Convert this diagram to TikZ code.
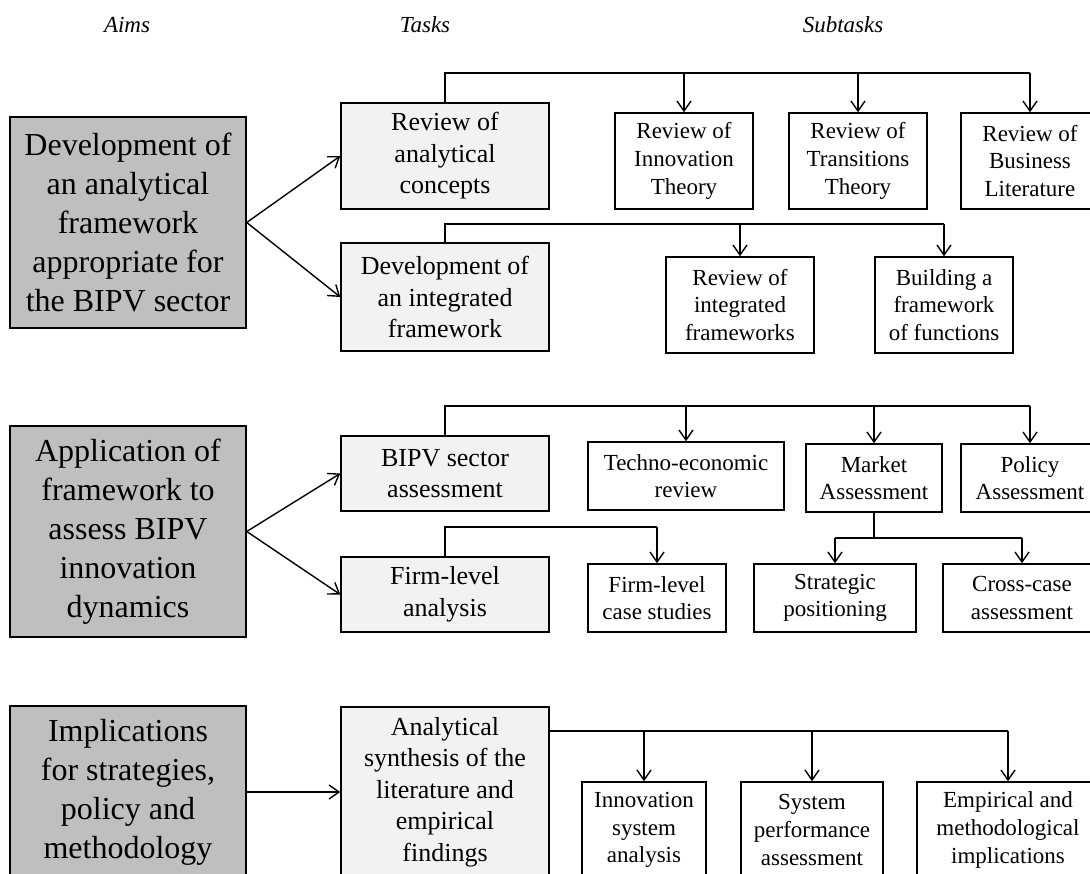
\documentclass[tikz,border=0pt]{standalone}
\usepackage{fontspec}
\setmainfont{Liberation Serif}
\usetikzlibrary{arrows.meta}
\definecolor{aimfill}{RGB}{191,191,191}
\definecolor{taskfill}{RGB}{242,242,242}
\begin{document}
\begin{tikzpicture}[x=1pt,y=-1pt,
  box/.style={draw=black, line width=1.5pt, inner sep=0pt, align=center, anchor=center},
  aimbox/.style={box, fill=aimfill, minimum width=236pt, font=\fontsize{32}{39}\selectfont},
  taskbox/.style={box, fill=taskfill, minimum width=208pt, font=\fontsize{26}{31.5}\selectfont},
  subbox/.style={box, fill=white, font=\fontsize{23}{27.7}\selectfont},
  head/.style={font=\fontsize{23}{27}\selectfont\itshape},
  link/.style={line width=1.4pt},
  arr/.style={link, -{Straight Barb[length=10pt,width=14pt]}},
]
\useasboundingbox (0,0) rectangle (1090,874);
\clip (0,0) rectangle (1090,874);

% column headings
\node[head] (hA) at (127,25) {Aims};
\node[head] (hT) at (425,25) {Tasks};
\node[head] (hS) at (843,25) {Subtasks};

% ---------- aim 1 ----------
\node[aimbox, minimum height=211pt] (a1) at (128,222.5)
  {Development of\\an analytical\\framework\\appropriate for\\the BIPV sector};
\node[taskbox, minimum height=106pt] (t11) at (445,156) {Review of\\analytical\\concepts};
\node[taskbox, minimum height=108pt] (t12) at (445,297) {Development of\\an integrated\\framework};
\draw[arr] (a1.east) -- (t11.west);
\draw[arr] (a1.east) -- (t12.west);

\node[subbox, minimum width=138pt, minimum height=96pt] (s111) at (684,161) {Review of\\Innovation\\Theory};
\node[subbox, minimum width=138pt, minimum height=96pt] (s112) at (858,161) {Review of\\Transitions\\Theory};
\node[subbox, minimum width=138pt, minimum height=96pt] (s113) at (1030,161) {Review of\\Business\\Literature};
\coordinate (r11) at (0,73);
\draw[link] (t11.north) -- (t11.north |- r11) -- (s113.north |- r11);
\draw[line width=1.8pt] (t11.north |- r11) -- (s112.north |- r11);
\draw[arr] (s111.north |- r11) -- (s111.north);
\draw[arr] (s112.north |- r11) -- (s112.north);
\draw[arr] (s113.north |- r11) -- (s113.north);

\node[subbox, minimum width=148pt, minimum height=96pt] (s121) at (740,305) {Review of\\integrated\\frameworks};
\node[subbox, minimum width=138pt, minimum height=96pt] (s122) at (944,305) {Building a\\framework\\of functions};
\coordinate (r12) at (0,224);
\draw[link] (t12.north) -- (t12.north |- r12) -- (s122.north |- r12);
\draw[arr] (s121.north |- r12) -- (s121.north);
\draw[arr] (s122.north |- r12) -- (s122.north);

% ---------- aim 2 ----------
\node[aimbox, minimum height=211pt] (a2) at (128,531.5)
  {Application of\\framework to\\assess BIPV\\innovation\\dynamics};
\node[taskbox, minimum height=75pt] (t21) at (445,473.5) {BIPV sector\\assessment};
\node[taskbox, minimum height=75pt] (t22) at (445,594.5) {Firm-level\\analysis};
\draw[arr] (a2.east) -- (t21.west);
\draw[arr] (a2.east) -- (t22.west);

\node[subbox, minimum width=196pt, minimum height=68pt] (s211) at (686,476) {Techno-economic\\review};
\node[subbox, minimum width=136pt, minimum height=68pt] (s212) at (874,478) {Market\\Assessment};
\node[subbox, minimum width=138pt, minimum height=68pt] (s213) at (1030,478) {Policy\\Assessment};
\coordinate (r21) at (0,406);
\draw[link] (t21.north) -- (t21.north |- r21) -- (s213.north |- r21);
\draw[arr] (s211.north |- r21) -- (s211.north);
\draw[arr] (s212.north |- r21) -- (s212.north);
\draw[arr] (s213.north |- r21) -- (s213.north);

\node[subbox, minimum width=138pt, minimum height=68pt] (s221) at (657,598) {Firm-level\\case studies};
\node[subbox, minimum width=162pt, minimum height=68pt] (s222) at (835,598) {Strategic\\positioning};
\node[subbox, minimum width=158pt, minimum height=68pt] (s223) at (1022,598) {Cross-case\\assessment};
\coordinate (r22) at (0,527);
\draw[link] (t22.north) -- (t22.north |- r22) -- (s221.north |- r22);
\draw[arr] (s221.north |- r22) -- (s221.north);
\coordinate (r23) at (0,538);
\draw[link] (s212.south) -- (s212.south |- r23);
\draw[link] (s222.north |- r23) -- (s223.north |- r23);
\draw[arr] (s222.north |- r23) -- (s222.north);
\draw[arr] (s223.north |- r23) -- (s223.north);

% ---------- aim 3 ----------
\node[aimbox, minimum height=172pt] (a3) at (128,792)
  {Implications\\for strategies,\\policy and\\methodology};
\node[taskbox, minimum height=170pt] (t31) at (445,792)
  {Analytical\\synthesis of the\\literature and\\empirical\\findings};
\draw[arr] (a3.east) -- (t31.west);

\node[subbox, minimum width=124pt, minimum height=96pt] (s311) at (644,830) {Innovation\\system\\analysis};
\node[subbox, minimum width=142pt, minimum height=96pt] (s312) at (812,830) {System\\performance\\assessment};
\node[subbox, minimum width=182pt, minimum height=96pt] (s313) at (1008,830) {Empirical and\\methodological\\implications};
\coordinate (r31) at (0,731);
\draw[link] (t31.east |- r31) -- (s313.north |- r31);
\draw[arr] (s311.north |- r31) -- (s311.north);
\draw[arr] (s312.north |- r31) -- (s312.north);
\draw[arr] (s313.north |- r31) -- (s313.north);
\end{tikzpicture}
\end{document}
